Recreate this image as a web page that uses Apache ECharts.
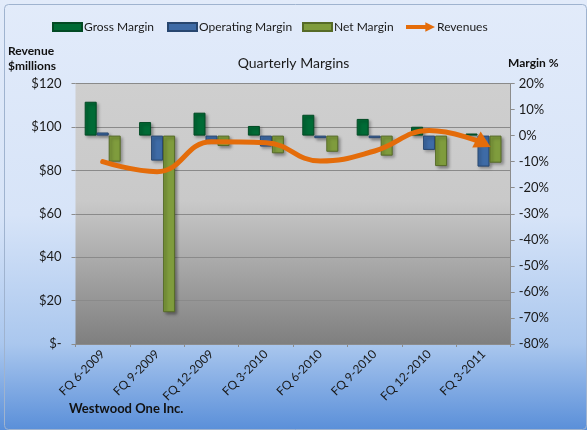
<!DOCTYPE html>
<html><head><meta charset="utf-8">
<script src="https://cdn.jsdelivr.net/npm/echarts@6/dist/echarts.min.js"></script>
<style>html,body{margin:0;padding:0;background:#fff}#c{width:587px;height:430px}</style>
</head><body><div id="c"></div>
<script>
const categories = ['FQ 6-2009','FQ 9-2009','FQ 12-2009','FQ 3-2010','FQ 6-2010','FQ 9-2010','FQ 12-2010','FQ 3-2011'];
const grossMargin = [13.0, 5.2, 8.8, 3.7, 8.0, 6.4, 3.4, 0.8];
const operatingMargin = [1.2, -9.6, -2.3, -4.2, -1.0, -1.0, -5.5, -11.9];
const netMargin = [-10.0, -67.8, -4.0, -6.8, -6.2, -7.7, -11.7, -10.4];
const revenues = [84.0, 79.4, 93.2, 92.7, 84.3, 88.9, 98.3, 92.5];
const revTicks = ['$-','$20','$40','$60','$80','$100','$120'];

const FONT = 'Lato';
const chart = echarts.init(document.getElementById('c'), null, {renderer:'canvas'});
function barStyle(fill, border){
  return {color: fill, borderColor: border, borderWidth: 1,
    shadowColor:'rgba(0,0,0,0.35)', shadowBlur:3, shadowOffsetX:2, shadowOffsetY:2};
}
const arrowPath = 'path://M0,3 L20,3 L20,0 L30,5 L20,10 L20,7 L0,7 Z';
const revData = revenues.map((v,i)=> i===revenues.length-1 ? {value:v, symbol:'triangle', symbolSize:[18,16], symbolRotate:-118} : {value:v});
function leg(name, left, icon){
  return {data:[{name:name, icon:icon}], left:left, top:16, itemWidth:29, itemHeight:icon===arrowPath?11:8,
    textStyle:{fontFamily:FONT, fontSize:12, color:'#1a1a1a', padding:[0,0,0,-3]}, selectedMode:false};
}
chart.setOption({
  animation:false,
  backgroundColor:{type:'linear',x:0,y:0,x2:0,y2:1,colorStops:[
    {offset:0,color:'#e2ebfa'},{offset:0.5,color:'#d7e4f8'},{offset:0.8,color:'#aac7ee'},{offset:1,color:'#5a8fd9'}]},
  graphic:[
    {type:'rect', left:2, top:2, shape:{width:582, height:425, r:4}, style:{fill:'none', stroke:'#9fb3cf', lineWidth:1}, silent:true},
    {type:'text', left:8, top:44, style:{text:'Revenue\n$millions', font:'bold 12px '+FONT, fill:'#111', lineHeight:15}},
    {type:'text', left:508, top:57, style:{text:'Margin %', font:'bold 12px '+FONT, fill:'#111'}},
    {type:'text', left:69, top:402, style:{text:'Westwood One Inc.', font:'bold 13px '+FONT, fill:'#111'}}
  ],
  title:{text:'Quarterly Margins', left:'center', top:51, textStyle:{fontFamily:FONT, fontSize:14, fontWeight:'normal', color:'#1a1a1a'}},
  legend:[
    leg('Gross Margin', 47, 'rect'),
    leg('Operating Margin', 162, 'rect'),
    leg('Net Margin', 297, 'rect'),
    leg('Revenues', 401, arrowPath)
  ],
  grid:{left:75.5, right:76.3, top:83.5, bottom:86,
    show:true, borderWidth:0,
    backgroundColor:{type:'linear',x:0,y:0,x2:0,y2:1,colorStops:[
      {offset:0,color:'#cfcfcf'},{offset:0.45,color:'#c9c9c9'},{offset:1,color:'#7f7f7f'}]}},
  xAxis:{type:'category', data:categories,
    axisLine:{show:true, lineStyle:{color:'#8c8c8c'}},
    axisTick:{show:true, alignWithLabel:false, length:3, lineStyle:{color:'#8c8c8c'}},
    axisLabel:{rotate:45, fontFamily:FONT, fontSize:12, color:'#1a1a1a', margin:8, interval:0}},
  yAxis:[
    {type:'value', min:0, max:120, interval:20, position:'left',
      axisLine:{show:false}, axisTick:{show:true, length:4, lineStyle:{color:'#8c8c8c'}},
      splitLine:{show:true, lineStyle:{color:'#8a8a8a', width:1}},
      axisLabel:{fontFamily:FONT, fontSize:13, color:'#1a1a1a', margin:14,
        formatter:(v)=>revTicks[Math.round(v/20)]}},
    {type:'value', min:-80, max:20, interval:10, position:'right',
      axisLine:{show:true, lineStyle:{color:'#8c8c8c'}}, axisTick:{show:true, length:4, lineStyle:{color:'#8c8c8c'}},
      splitLine:{show:false},
      axisLabel:{fontFamily:FONT, fontSize:13, color:'#1a1a1a', margin:8, formatter:(v)=>v+'%'}}
  ],
  series:[
    {name:'Gross Margin', type:'bar', yAxisIndex:1, data:grossMargin, barWidth:12, barGap:'0%',
      itemStyle:barStyle('#006b36','#024a24')},
    {name:'Operating Margin', type:'bar', yAxisIndex:1, data:operatingMargin, barWidth:12, barGap:'0%',
      itemStyle:barStyle('#3e6ba6','#27466f')},
    {name:'Net Margin', type:'bar', yAxisIndex:1, data:netMargin, barWidth:12, barGap:'0%',
      itemStyle:barStyle('#7f9c3d','#566b27')},
    {name:'Revenues', type:'line', yAxisIndex:0, data:revData, smooth:0.45,
      symbol:'none', showSymbol:true,
      lineStyle:{color:'#e46c0a', width:5, cap:'round'}, itemStyle:{color:'#e46c0a'}, z:5}
  ]
});
</script></body></html>
